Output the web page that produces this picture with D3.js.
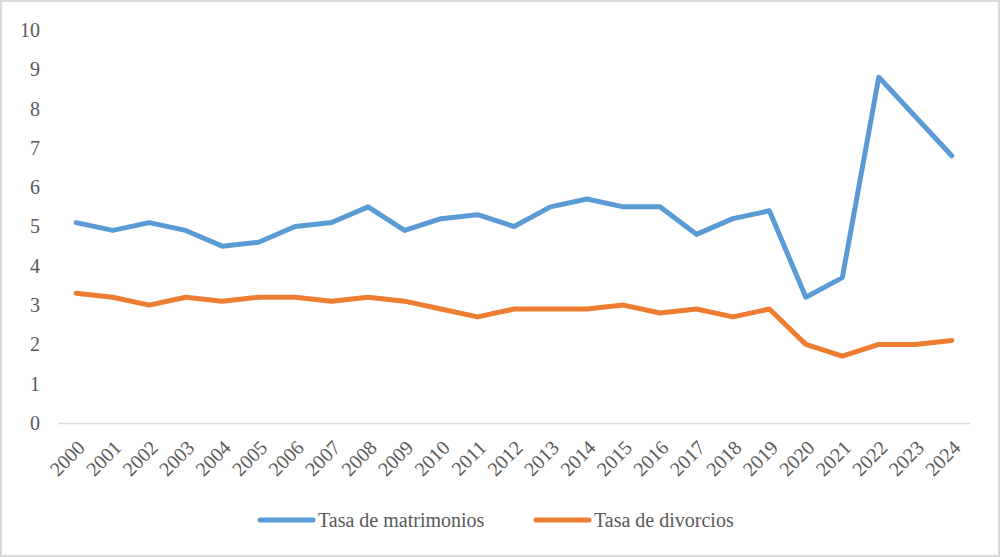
<!DOCTYPE html>
<html>
<head>
<meta charset="utf-8">
<script src="https://cdn.jsdelivr.net/npm/d3@7"></script>
<style>
  body { margin: 0; background: #fff; }
  svg { display: block; }
  svg text { font-family: 'Times New Roman', Times, 'Liberation Serif', Tinos, 'DejaVu Serif', 'Noto Serif', FreeSerif, serif; }
</style>
</head>
<body>
<svg id="chart" width="1000" height="557"></svg>
<script>
const years = ['2000', '2001', '2002', '2003', '2004', '2005', '2006', '2007', '2008', '2009',
  '2010', '2011', '2012', '2013', '2014', '2015', '2016', '2017', '2018', '2019',
  '2020', '2021', '2022', '2023', '2024'];
const matrimonios = [5.1, 4.9, 5.1, 4.9, 4.5, 4.6, 5.0, 5.1, 5.5, 4.9,
  5.2, 5.3, 5.0, 5.5, 5.7, 5.5, 5.5, 4.8, 5.2, 5.4,
  3.2, 3.7, 8.8, 7.8, 6.8];
const divorcios = [3.3, 3.2, 3.0, 3.2, 3.1, 3.2, 3.2, 3.1, 3.2, 3.1,
  2.9, 2.7, 2.9, 2.9, 2.9, 3.0, 2.8, 2.9, 2.7, 2.9,
  2.0, 1.7, 2.0, 2.0, 2.1];
const yTicks = [0, 1, 2, 3, 4, 5, 6, 7, 8, 9, 10];
const seriesNames = ['Tasa de matrimonios', 'Tasa de divorcios'];

const svg = d3.select('#chart');
const width = +svg.attr('width');
const height = +svg.attr('height');
const textColor = '#595959';

// outer frame
svg.append('rect')
  .attr('x', 1).attr('y', 1)
  .attr('width', width - 2).attr('height', height - 2)
  .attr('fill', '#fff')
  .attr('stroke', '#d9d9d9')
  .attr('stroke-width', 2);

const margin = {top: 30, right: 30, bottom: 134, left: 58};
const chartRight = width - margin.right;
const chartBottom = height - margin.bottom;

const xScale = d3.scaleBand()
  .domain(years)
  .range([margin.left, chartRight]);

const yScale = d3.scaleLinear()
  .domain([0, 10])
  .range([chartBottom, margin.top]);

// y axis labels
const yAxis = d3.axisLeft(yScale).tickValues(yTicks).tickSize(0).tickPadding(18);
svg.append('g')
  .attr('transform', `translate(${margin.left},0)`)
  .call(yAxis)
  .attr('font-family', null)
  .call((g) => g.select('.domain').remove())
  .selectAll('text')
  .style('font-size', '20px')
  .attr('fill', textColor);

// x axis
const xAxis = d3.axisBottom(xScale).tickSize(0).tickPadding(0);
svg.append('g')
  .attr('transform', `translate(0,${chartBottom})`)
  .call(xAxis)
  .attr('font-family', null)
  .call((g) => g.select('.domain')
    .attr('stroke', '#d9d9d9')
    .attr('stroke-width', 1.5))
  .selectAll('text')
  .style('font-size', '20px')
  .attr('fill', textColor)
  .attr('text-anchor', 'end')
  .attr('dy', '0.35em')
  .attr('transform', 'translate(5,21) rotate(-45)');

const line = d3.line()
  .x((d, i) => xScale(years[i]) + xScale.bandwidth() / 2)
  .y((d) => yScale(d));

const colors = ['#5b9bd5', '#ed7d31'];
[matrimonios, divorcios].forEach((values, k) => {
  svg.append('path')
    .datum(values)
    .attr('fill', 'none')
    .attr('stroke', colors[k])
    .attr('stroke-width', 5)
    .attr('stroke-linejoin', 'round')
    .attr('stroke-linecap', 'round')
    .attr('d', line);
});

// legend
const legend = svg.append('g').attr('transform', 'translate(0,520)');
const legendX = [260, 536];
seriesNames.forEach((name, k) => {
  const g = legend.append('g').attr('transform', `translate(${legendX[k]},0)`);
  g.append('line')
    .attr('x1', 0).attr('x2', 53)
    .attr('y1', 0).attr('y2', 0)
    .attr('stroke', colors[k])
    .attr('stroke-width', 5)
    .attr('stroke-linecap', 'round');
  g.append('text')
    .attr('x', 58)
    .attr('y', 0)
    .attr('dy', '0.35em')
    .style('font-size', '20px')
    .attr('fill', textColor)
    .text(name);
});
</script>
</body>
</html>
